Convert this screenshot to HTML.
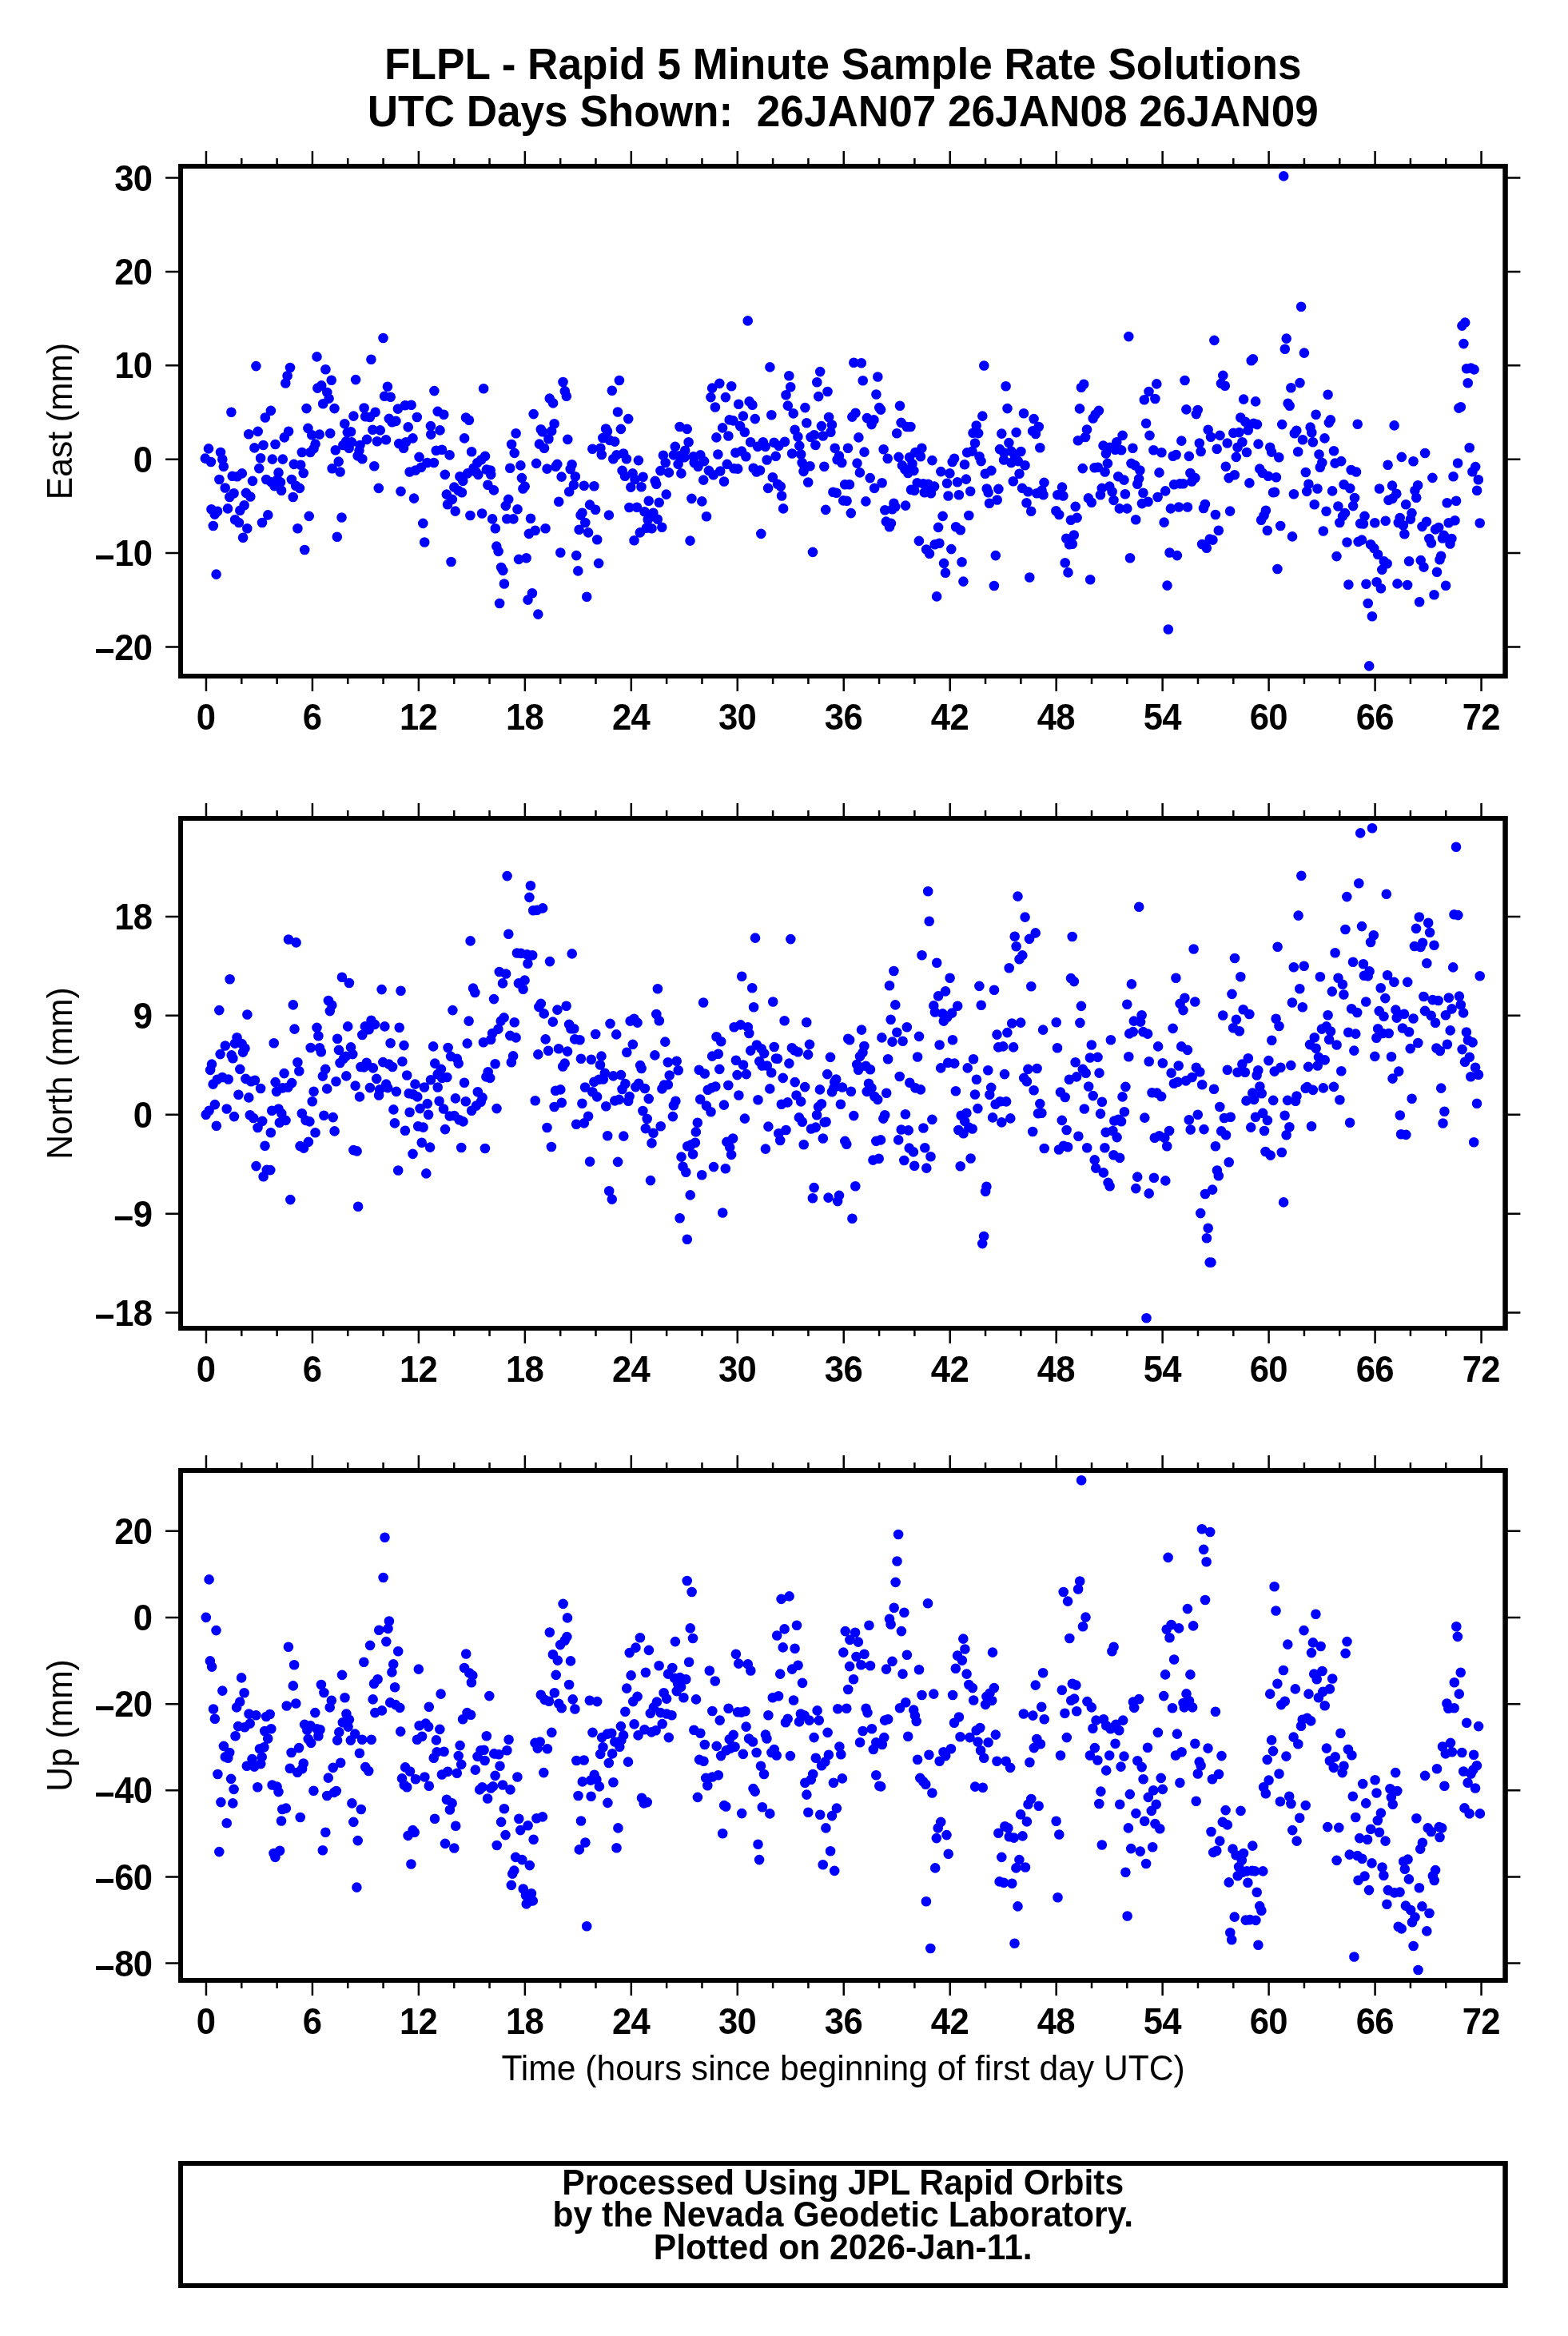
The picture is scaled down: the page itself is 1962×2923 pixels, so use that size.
<!DOCTYPE html>
<html><head><meta charset="utf-8"><title>FLPL</title>
<style>html,body{margin:0;padding:0;background:#fff}svg{display:block}text{font-family:"Liberation Sans",sans-serif;will-change:transform}</style></head><body>
<svg width="1962" height="2923" viewBox="0 0 1962 2923">
<rect width="1962" height="2923" fill="#fff"/>
<g font-size="53.15" font-weight="bold" text-anchor="middle" fill="#000">
<text transform="translate(1054.75 98.5) scale(1 1.045)">FLPL - Rapid 5 Minute Sample Rate Solutions</text>
<text transform="translate(1054.75 157.8) scale(1 1.045)">UTC Days Shown:&#160; 26JAN07 26JAN08 26JAN09</text>
</g>
<path d="M261 561.4h.01M256.8 573.6h.01M263.9 578h.01M276 566h.01M278.3 574.8h.01M279.8 583.8h.01M274.4 600h.01M281.7 610.5h.01M290.7 595.8h.01M296.8 596.2h.01M302.8 592.4h.01M292.6 617.2h.01M287.3 622h.01M264.5 637.3h.01M272.1 639.8h.01M268.7 643.6h.01M285 636.4h.01M266.8 658h.01M270.6 718.6h.01M289.4 515.8h.01M294.1 650.3h.01M298.9 654h.01M304.1 672.7h.01M309.3 661.2h.01M300.3 638.7h.01M305.6 632.2h.01M307.9 616.9h.01M313.3 621.5h.01M316 601.9h.01M311.2 543.2h.01M322.7 539.9h.01M318.4 560.4h.01M320.4 458.1h.01M329.5 557h.01M326.1 573.2h.01M324.2 586.1h.01M328 654h.01M335.3 644.4h.01M331.8 522.5h.01M338.9 513.9h.01M344.5 556h.01M340.8 574.6h.01M353.8 574.6h.01M333.2 600h.01M339.5 603.3h.01M343.3 608.1h.01M348.5 591.4h.01M347.1 600h.01M351 603.5h.01M352.1 613.8h.01M355.8 547.4h.01M361.1 539.8h.01M357.3 479.5h.01M359.6 470.3h.01M363 460h.01M367.8 580.9h.01M376.2 581.8h.01M379.7 592h.01M364.9 600h.01M370.1 607.7h.01M374.9 610.9h.01M366.7 622h.01M372.4 661.2h.01M386.7 645.9h.01M381.2 688h.01M377.8 566h.01M388.3 566h.01M392.5 561.4h.01M394.6 555.6h.01M383.5 511.1h.01M385.4 535.9h.01M390.2 544.2h.01M399.8 543.6h.01M396.5 446.4h.01M397.3 485.6h.01M402.2 482.4h.01M409.3 491h.01M411.6 498.6h.01M404.2 505.3h.01M407.4 462.3h.01M414.7 475.7h.01M418.5 511.1h.01M413.2 542.2h.01M419.8 563.3h.01M423.7 577.6h.01M415.6 586.2h.01M425.6 590.5h.01M427.5 647.5h.01M421.8 671.8h.01M431.3 530.2h.01M434.8 541.1h.01M439 540.3h.01M442.4 520.6h.01M429.4 557h.01M433.2 552.2h.01M439.9 553.2h.01M436.7 560.8h.01M450.5 557h.01M449.5 563.7h.01M447.6 570.4h.01M453.3 574.2h.01M459.1 549.9h.01M445.1 475.1h.01M455.6 510.5h.01M457.2 521.2h.01M462.9 522h.01M469.6 515.8h.01M464.4 449.8h.01M466.3 537.8h.01M475.7 538.4h.01M471.9 552.2h.01M483 550.3h.01M468.3 583.2h.01M473.8 610.9h.01M479.5 423h.01M484.9 483.7h.01M481.1 495.8h.01M488.7 496.7h.01M486.8 523.9h.01M490.6 528.3h.01M495.4 526.9h.01M497.9 511.6h.01M506.9 507.2h.01M514.6 506.8h.01M499.2 555.1h.01M505 560.8h.01M507.9 553.2h.01M516.5 548.4h.01M510.7 534.4h.01M521.8 522h.01M501.5 614.9h.01M518 623.6h.01M512.6 590.5h.01M519.9 588.5h.01M527 584.7h.01M534.6 579h.01M524.5 571.9h.01M529.3 654.9h.01M531.2 678.5h.01M538.9 533.1h.01M539.2 543.6h.01M543.4 489.1h.01M542.9 579h.01M547.7 514.9h.01M555.3 518.7h.01M550.5 538.4h.01M545.7 563.7h.01M553 562.7h.01M562.6 569.4h.01M556.8 593.9h.01M558.8 618.6h.01M565.8 624.9h.01M560.1 631.2h.01M568.3 609.6h.01M573.5 613.8h.01M577.9 616.3h.01M569.7 639.6h.01M564.5 703h.01M583 522.5h.01M586.9 525.8h.01M581.1 548.4h.01M590.1 565.2h.01M575.4 596.2h.01M579.2 601.9h.01M585 592.4h.01M592.6 585.7h.01M597.4 579h.01M602.2 575.2h.01M607 570.9h.01M595.5 590.5h.01M598.4 593.9h.01M588.4 645h.01M605.1 486.2h.01M608.9 587.6h.01M613.7 588.5h.01M614.2 593.9h.01M610.4 606.7h.01M617.9 613.4h.01M603.1 642.5h.01M616.1 649.4h.01M619.8 661.2h.01M621.3 683.6h.01M623.6 689.9h.01M627.1 710h.01M629.3 713.9h.01M625.1 755h.01M630.9 730.5h.01M636.2 624.9h.01M632.8 632.9h.01M634.3 649.2h.01M642.4 649.4h.01M647.5 637.3h.01M638.2 585.7h.01M651.4 582.4h.01M640.1 556h.01M643.7 566.9h.01M645.6 542.2h.01M652.9 598.1h.01M656.7 608.6h.01M654.4 611.5h.01M649.1 699.9h.01M658.6 698.2h.01M664 648.8h.01M661.9 667.9h.01M669.7 663.7h.01M665.9 742.2h.01M660.5 750.6h.01M667.6 518.1h.01M671.1 579.9h.01M676.8 537.3h.01M678.7 540.3h.01M674.9 555.6h.01M681 560.8h.01M686.4 549.3h.01M690.2 539.4h.01M693.6 530.2h.01M687.7 498.6h.01M692.1 504.4h.01M684.5 586.6h.01M695.4 583.8h.01M697.3 580.9h.01M682.5 661.2h.01M702.6 596.6h.01M699.2 627.8h.01M701.3 691.5h.01M704.5 478h.01M706.8 489.4h.01M708.8 495.8h.01M710.3 549.9h.01M715.6 581.3h.01M713.7 587h.01M719.8 596.2h.01M717.9 606.7h.01M712.2 615.3h.01M730.8 607.7h.01M728.5 641.7h.01M726.5 644.6h.01M732.3 654h.01M724.6 662.8h.01M736.1 666.4h.01M721.2 695.1h.01M723.3 714.4h.01M743.4 608.3h.01M738 631.6h.01M745.1 637.7h.01M747.2 675.2h.01M749.1 704.9h.01M734.2 746.8h.01M741.3 561.8h.01M751.4 560.8h.01M752.8 569h.01M758.1 536.5h.01M760 539.8h.01M754.3 548h.01M762.9 550.9h.01M769.2 552.6h.01M761.9 644.6h.01M765.8 488.7h.01M767.3 574.2h.01M774.9 476h.01M773 515.5h.01M776.9 536.9h.01M786.2 524.1h.01M771.5 569.4h.01M780.1 567.5h.01M783.9 574.2h.01M778.6 588.9h.01M782 595.8h.01M791.6 592.4h.01M794.5 600h.01M789.3 609.6h.01M798.9 576.1h.01M804.6 596.8h.01M802.5 609.2h.01M787.4 635h.01M797 634.8h.01M793.5 676.2h.01M800.8 666.4h.01M806.5 640.2h.01M817.4 641.7h.01M810.7 650.2h.01M822.8 649.8h.01M808.8 660.7h.01M815.5 661.2h.01M828.3 659.7h.01M811.7 626.8h.01M824.7 628.7h.01M819.7 601.9h.01M821.2 605.8h.01M833.7 618.6h.01M826.4 589.1h.01M829.9 569.8h.01M832.7 579h.01M836.9 591.4h.01M844.8 558.9h.01M842.9 569.4h.01M850.5 570.4h.01M848.6 580.9h.01M857.2 563.7h.01M856.3 572.3h.01M861.6 553.2h.01M852.4 592.4h.01M850.5 534h.01M859.7 536.9h.01M867.7 571.3h.01M876.4 569.4h.01M868.7 579h.01M873.5 583.8h.01M881.1 577.1h.01M865.4 623.9h.01M878.3 627.4h.01M884 646.3h.01M863.5 676.6h.01M880.2 600.6h.01M886.9 588.9h.01M892.6 594.3h.01M901.2 589.5h.01M909.8 580.9h.01M906 602.5h.01M898.4 568.5h.01M896.4 547.4h.01M904.1 535.4h.01M911.4 545.5h.01M889.4 497.1h.01M894.9 509.5h.01M891.1 485.6h.01M900.3 479.9h.01M907.9 497.1h.01M915.2 483.3h.01M912.7 525.4h.01M917.5 526.4h.01M924.2 505.7h.01M929.9 520.6h.01M926.1 533.1h.01M931.8 540.7h.01M920.4 566.5h.01M928 564.6h.01M933.4 571.3h.01M918.4 586.2h.01M923.2 586.6h.01M935.7 401.4h.01M937.6 502.4h.01M941.4 506.8h.01M944.8 524.1h.01M939.1 553.2h.01M948.1 558.9h.01M954.8 553.2h.01M957.7 558.9h.01M942.7 585.7h.01M946.6 590.5h.01M951 588.5h.01M952.3 667.9h.01M963.4 459.4h.01M965.3 519.3h.01M959.6 575.5h.01M970.7 570.9h.01M968.6 553.7h.01M974.5 557.9h.01M982 552.8h.01M966.8 597.2h.01M961.1 610.9h.01M973 605.8h.01M976.8 608.6h.01M978.1 620.5h.01M980.1 636.4h.01M987.3 470.3h.01M989.2 484.3h.01M983.5 494.2h.01M985.8 507.6h.01M992.7 517.4h.01M994.6 537.8h.01M998.4 546.5h.01M1000.3 557.9h.01M991.1 567.5h.01M1002.2 568.5h.01M1003.6 579h.01M1006.5 583.2h.01M1013.5 583.2h.01M1005.5 589.9h.01M1007.4 510.1h.01M1009.3 529.2h.01M1011.2 603.5h.01M1017 690.9h.01M1014.5 547h.01M1018.9 544.2h.01M1020.4 557h.01M1027.9 533.1h.01M1029.8 545.5h.01M1026.2 465.1h.01M1022.3 478.2h.01M1024.2 496.1h.01M1035.5 490h.01M1037.1 522h.01M1040.9 531.5h.01M1039.4 540.7h.01M1031.3 583.8h.01M1033.2 637.9h.01M1044.7 560.8h.01M1049.9 570.4h.01M1047.6 575.2h.01M1053.3 579h.01M1042.4 615.7h.01M1046.6 616.7h.01M1057.2 606.3h.01M1062.9 606.3h.01M1055.2 626.4h.01M1059.6 626.8h.01M1061 560.8h.01M1064.8 642.1h.01M1068.3 453.7h.01M1077.8 454.2h.01M1079.7 476.2h.01M1070.5 516.8h.01M1066.3 521.6h.01M1074.4 547.4h.01M1072.5 579.6h.01M1075.9 591.4h.01M1081.5 565.6h.01M1083.4 627.4h.01M1084.9 523.1h.01M1090.6 531.1h.01M1093.5 525.4h.01M1088.7 598.1h.01M1094.1 610.9h.01M1103.6 604.2h.01M1098.3 471.5h.01M1096.4 493.5h.01M1100.2 510.1h.01M1102.1 512.6h.01M1105.6 562.3h.01M1110.7 573.8h.01M1107.3 638.3h.01M1108.8 652.6h.01M1114.9 654.9h.01M1113 659.3h.01M1118.4 629.7h.01M1120.3 634.1h.01M1116.5 637.3h.01M1126 507.8h.01M1122.2 542.2h.01M1127.6 528.9h.01M1134.6 534h.01M1124.5 571.9h.01M1133.1 632.6h.01M1128.9 582.4h.01M1132.3 587.2h.01M1136.2 592h.01M1138.1 572.3h.01M1139.4 534h.01M1140 612.8h.01M1153.4 560.8h.01M1145.4 566h.01M1151.9 571.3h.01M1141.5 580.3h.01M1143.4 588.9h.01M1166.4 576.1h.01M1147.7 604.2h.01M1144.2 613.8h.01M1155.3 605.4h.01M1161.4 605.8h.01M1169.1 608.6h.01M1156.8 616.3h.01M1164.9 617.2h.01M1177.3 590.1h.01M1149.9 676.9h.01M1159.1 687.5h.01M1163 692.8h.01M1169.7 681.3h.01M1175.4 679.8h.01M1174.1 659.9h.01M1179.6 645.9h.01M1172.1 746.4h.01M1188.4 592.4h.01M1185 604.8h.01M1186.5 620.5h.01M1194.1 573.8h.01M1191.7 578h.01M1198 603.3h.01M1199.9 619.2h.01M1207 581.3h.01M1208.9 599.6h.01M1214.2 614.8h.01M1212.3 645h.01M1196.1 659.3h.01M1201.8 663.2h.01M1190.3 687.1h.01M1181.1 704.9h.01M1183 716.7h.01M1203.5 703.3h.01M1205.4 727.6h.01M1210.2 566.2h.01M1216.5 564.6h.01M1220 554.5h.01M1221.7 532.5h.01M1217.5 541.7h.01M1224.2 542.1h.01M1229.3 520.6h.01M1231.3 457.5h.01M1225.5 571.3h.01M1227.6 577.1h.01M1232.8 592.8h.01M1240.4 588.9h.01M1234.7 611.5h.01M1236.6 616.3h.01M1249.4 611.9h.01M1238 629.7h.01M1247.7 625.5h.01M1245.8 695.1h.01M1243.9 733h.01M1253.3 542.6h.01M1251 562.1h.01M1256.3 566.5h.01M1256.1 575.5h.01M1258.6 483.3h.01M1260.5 511.1h.01M1262.4 554.1h.01M1265.3 564.6h.01M1270.1 571.3h.01M1265.3 579h.01M1273.9 577.1h.01M1277.4 565h.01M1271.6 541.1h.01M1281 517.2h.01M1282.5 582.2h.01M1275.5 592.8h.01M1267.8 602.3h.01M1279.1 610.9h.01M1286.4 615.3h.01M1284.5 629.3h.01M1290.2 639.8h.01M1288.3 722.5h.01M1293.6 524.1h.01M1299.8 534h.01M1292.1 539.4h.01M1295.9 543h.01M1301.3 560.2h.01M1306.5 603.9h.01M1297.3 617.2h.01M1303.6 613.8h.01M1305.5 619.2h.01M1329 609.6h.01M1323.3 619.2h.01M1330.4 620.5h.01M1321.4 639.2h.01M1325.2 644h.01M1345.7 633.9h.01M1339.9 650.7h.01M1347.6 647.9h.01M1343.8 669.5h.01M1334.2 673.7h.01M1338 681.3h.01M1341.8 680.8h.01M1332.7 704.3h.01M1336.5 716.4h.01M1356.2 480.8h.01M1352.9 484.7h.01M1351 511.4h.01M1360 537.5h.01M1358.1 547h.01M1348.9 551.2h.01M1354.7 586.1h.01M1361.9 623.4h.01M1365.8 628.7h.01M1364.2 725.3h.01M1374.9 513.9h.01M1370.5 518.7h.01M1367.7 523.5h.01M1369.6 585.3h.01M1373.8 584.7h.01M1382.6 590.5h.01M1385.9 579.9h.01M1380.5 557.6h.01M1383.9 567.5h.01M1388.7 559.8h.01M1397.3 553.2h.01M1395.4 562.7h.01M1403.1 563.3h.01M1404.6 544.9h.01M1378.8 610.9h.01M1376.9 619.2h.01M1388.3 608.6h.01M1391.6 615.3h.01M1393.5 625.9h.01M1399.2 596.2h.01M1406.5 600.6h.01M1407.9 618.2h.01M1400.8 636.4h.01M1410.3 636.4h.01M1412.3 421.1h.01M1417.4 560.8h.01M1415.5 579.9h.01M1420.3 582.4h.01M1426.4 588.5h.01M1425.1 599.1h.01M1423.2 605.8h.01M1430.4 616.7h.01M1421.2 650.3h.01M1414 698.2h.01M1428.9 630.1h.01M1436.6 627.8h.01M1431.8 500.2h.01M1437.5 490h.01M1434.1 529.8h.01M1438.5 544.9h.01M1447.3 480.4h.01M1445.4 499h.01M1443.4 563.3h.01M1453.4 566.2h.01M1450.5 591.4h.01M1458.2 614.4h.01M1448.6 622h.01M1467.7 570.8h.01M1471.6 569h.01M1469.1 606.3h.01M1476.4 605.2h.01M1480.6 605.2h.01M1464.9 636.4h.01M1475 634.5h.01M1485.9 634.5h.01M1456.6 653.6h.01M1463.5 691.5h.01M1472.9 695.1h.01M1460.5 732.6h.01M1478.3 551.6h.01M1482.5 476h.01M1484.4 512.4h.01M1487.8 570.9h.01M1489.4 592h.01M1495.5 598.1h.01M1491.3 602.5h.01M1498.7 513h.01M1496.8 518.1h.01M1500.8 554.5h.01M1502.6 565h.01M1511.7 537.8h.01M1515 546.8h.01M1507.9 631h.01M1506 636h.01M1504.1 681h.01M1509.8 685.7h.01M1513.7 674.6h.01M1517.5 675.6h.01M1519.4 425.9h.01M1530.3 469.9h.01M1528 479.9h.01M1532.8 482.7h.01M1526.5 544.9h.01M1522.7 561.8h.01M1535.7 554.5h.01M1533.8 583.8h.01M1520.9 644h.01M1524.8 663.7h.01M1539.1 639.6h.01M1537.6 598.1h.01M1544.8 594.3h.01M1543.3 541.7h.01M1550.6 541.1h.01M1546.8 571.9h.01M1548.5 559.8h.01M1554.4 553.2h.01M1552.3 522.5h.01M1558.2 527.7h.01M1556.1 499.6h.01M1561.7 538.2h.01M1560 566h.01M1563.4 604.4h.01M1565.7 451.2h.01M1567.8 449.3h.01M1571.1 502.4h.01M1568.6 529.8h.01M1573 531.1h.01M1574.5 555.6h.01M1576.2 586.6h.01M1579.7 591.8h.01M1586.9 595.8h.01M1596.9 597.2h.01M1589.2 559.8h.01M1591.1 565.6h.01M1600.3 572.3h.01M1583.9 638.7h.01M1581.6 645h.01M1578.1 650.7h.01M1585.8 663.7h.01M1593.1 616.3h.01M1595 615.7h.01M1598.4 712h.01M1602.2 658h.01M1604.2 531.1h.01M1609.7 423.6h.01M1607.8 436.8h.01M1611.6 504.7h.01M1613.7 507.8h.01M1615.4 485.2h.01M1626.5 479.1h.01M1628.1 383.8h.01M1631.9 441.6h.01M1622.3 538.8h.01M1619.8 542.2h.01M1630 550.3h.01M1624.2 565.2h.01M1618.9 618.2h.01M1617 671.4h.01M1633.8 591h.01M1637.4 605.8h.01M1635.2 614.9h.01M1639.6 534.6h.01M1641.3 541.3h.01M1642.8 553.2h.01M1646.6 518.7h.01M1650.5 568.5h.01M1654.3 579h.01M1651.8 584.7h.01M1648.5 611.5h.01M1644.7 631.2h.01M1657.5 548.4h.01M1661.6 493.8h.01M1664.8 525.4h.01M1662.9 528.9h.01M1669 564.2h.01M1670.5 579.6h.01M1678.2 577.1h.01M1667.1 614.4h.01M1659.5 639.8h.01M1655.8 664.5h.01M1674.4 633.5h.01M1683 642.1h.01M1680.1 645.9h.01M1676.3 654h.01M1672.5 696.1h.01M1681.6 606.3h.01M1689.3 611.1h.01M1690.6 588h.01M1697 590.5h.01M1695 623h.01M1693.1 633.1h.01M1685.5 678.5h.01M1687.4 731.5h.01M1698.7 530.8h.01M1707.5 645.9h.01M1702.1 655.1h.01M1705.9 655.5h.01M1699.6 677.9h.01M1704 675.6h.01M1709.4 730.7h.01M1711.7 755h.01M1715.1 681.3h.01M1719.3 686.1h.01M1724.1 693.8h.01M1731.8 702.4h.01M1735.6 705.3h.01M1729.3 712.9h.01M1722.6 728.2h.01M1727.9 736.2h.01M1720.3 654.2h.01M1726 611.5h.01M1733.7 651.7h.01M1736.6 581.8h.01M1737.5 625.9h.01M1744.6 532.4h.01M1753.8 571.9h.01M1768.5 577.2h.01M1783.1 567h.01M1792.4 597.9h.01M1742 607.6h.01M1747.3 617.7h.01M1742.4 623.9h.01M1774.1 607.2h.01M1770.4 613.7h.01M1772.2 622.8h.01M1759.2 631.2h.01M1766.5 642.1h.01M1764.9 649.6h.01M1751.7 648h.01M1749.8 654h.01M1755.8 657.2h.01M1757.4 668.3h.01M1785 652.8h.01M1779.5 658.9h.01M1800.2 660h.01M1796.1 662.4h.01M1788.3 674h.01M1790.9 679.5h.01M1806.7 669.9h.01M1805 673.5h.01M1816.4 674h.01M1814.5 680.5h.01M1812.7 654.3h.01M1820.5 651.2h.01M1810.7 629.3h.01M1822.1 626.8h.01M1818.5 596.3h.01M1824.1 579.5h.01M1838.7 560.2h.01M1846.2 584.1h.01M1842.4 590.2h.01M1849.8 600.3h.01M1848.1 613.8h.01M1851.7 654.5h.01M1833.2 403.6h.01M1829.4 407.6h.01M1831.4 430.1h.01M1835.1 461.3h.01M1840.5 460.5h.01M1844.6 462.4h.01M1836.7 479.2h.01M1827.8 509.3h.01M1825.4 510.6h.01M1803.1 695.8h.01M1801.5 700.3h.01M1763.1 702.3h.01M1777.7 701.1h.01M1781.5 709.6h.01M1798 715.8h.01M1748.5 730.4h.01M1761.1 732h.01M1809.1 732.8h.01M1794.5 744.2h.01M1776.1 753.2h.01M673.3 768.6h.01M1716.9 771.3h.01M1713.2 833.4h.01M1461.8 787.5h.01M1606.2 220.4h.01" stroke="#0000ff" stroke-width="12.6" stroke-linecap="round" fill="none"/>
<path d="M257.95 208v-18.9M257.95 846v18.9M302.27 208v-10M302.27 846v10M346.59 208v-10M346.59 846v10M390.92 208v-18.9M390.92 846v18.9M435.24 208v-10M435.24 846v10M479.56 208v-10M479.56 846v10M523.88 208v-18.9M523.88 846v18.9M568.2 208v-10M568.2 846v10M612.53 208v-10M612.53 846v10M656.85 208v-18.9M656.85 846v18.9M701.17 208v-10M701.17 846v10M745.49 208v-10M745.49 846v10M789.81 208v-18.9M789.81 846v18.9M834.14 208v-10M834.14 846v10M878.46 208v-10M878.46 846v10M922.78 208v-18.9M922.78 846v18.9M967.1 208v-10M967.1 846v10M1011.42 208v-10M1011.42 846v10M1055.75 208v-18.9M1055.75 846v18.9M1100.07 208v-10M1100.07 846v10M1144.39 208v-10M1144.39 846v10M1188.71 208v-18.9M1188.71 846v18.9M1233.03 208v-10M1233.03 846v10M1277.36 208v-10M1277.36 846v10M1321.68 208v-18.9M1321.68 846v18.9M1366 208v-10M1366 846v10M1410.32 208v-10M1410.32 846v10M1454.64 208v-18.9M1454.64 846v18.9M1498.97 208v-10M1498.97 846v10M1543.29 208v-10M1543.29 846v10M1587.61 208v-18.9M1587.61 846v18.9M1631.93 208v-10M1631.93 846v10M1676.25 208v-10M1676.25 846v10M1720.58 208v-18.9M1720.58 846v18.9M1764.9 208v-10M1764.9 846v10M1809.22 208v-10M1809.22 846v10M1853.54 208v-18.9M1853.54 846v18.9M226 222.5h-18.9M1883.5 222.5h18.9M226 339.9h-18.9M1883.5 339.9h18.9M226 457.3h-18.9M1883.5 457.3h18.9M226 574.7h-18.9M1883.5 574.7h18.9M226 692.1h-18.9M1883.5 692.1h18.9M226 809.5h-18.9M1883.5 809.5h18.9" stroke="#000" stroke-width="2.5" fill="none"/>
<path fill="#000" fill-rule="evenodd" d="M223.05 205H1886.8V848.9H223.05ZM229 210.9H1880.3V843.1H229Z"/>
<g font-size="43.6" letter-spacing="-0.67" font-weight="bold" fill="#000">
<g text-anchor="middle">
<text transform="translate(257.62 912.8) scale(1 1.052)">0</text>
<text transform="translate(390.59 912.8) scale(1 1.052)">6</text>
<text transform="translate(523.55 912.8) scale(1 1.052)">12</text>
<text transform="translate(656.52 912.8) scale(1 1.052)">18</text>
<text transform="translate(789.48 912.8) scale(1 1.052)">24</text>
<text transform="translate(922.45 912.8) scale(1 1.052)">30</text>
<text transform="translate(1055.42 912.8) scale(1 1.052)">36</text>
<text transform="translate(1188.38 912.8) scale(1 1.052)">42</text>
<text transform="translate(1321.35 912.8) scale(1 1.052)">48</text>
<text transform="translate(1454.31 912.8) scale(1 1.052)">54</text>
<text transform="translate(1587.28 912.8) scale(1 1.052)">60</text>
<text transform="translate(1720.25 912.8) scale(1 1.052)">66</text>
<text transform="translate(1853.21 912.8) scale(1 1.052)">72</text>
</g><g text-anchor="end">
<text transform="translate(190.3 238.6) scale(1 1.052)">30</text>
<text transform="translate(190.3 356) scale(1 1.052)">20</text>
<text transform="translate(190.3 473.4) scale(1 1.052)">10</text>
<text transform="translate(190.3 590.8) scale(1 1.052)">0</text>
<text transform="translate(190.3 708.2) scale(1 1.052)"><tspan dy="4.6">−</tspan><tspan dy="-4.6">10</tspan></text>
<text transform="translate(190.3 825.6) scale(1 1.052)"><tspan dy="4.6">−</tspan><tspan dy="-4.6">20</tspan></text>
</g></g>
<text transform="translate(89.9 527) rotate(-90) scale(1 1.025)" font-size="42.6" text-anchor="middle">East (mm)</text>
<path d="M257.7 1394.8h.01M261.6 1389.8h.01M268.9 1382.1h.01M270.8 1408.7h.01M265 1331.6h.01M263.1 1338.9h.01M266.6 1356.6h.01M271.8 1350.8h.01M278.2 1348h.01M285.7 1350.5h.01M275.6 1319.1h.01M281.8 1308.5h.01M274.3 1264.1h.01M283.7 1387.5h.01M287.6 1225.2h.01M289.7 1320.4h.01M291.4 1324.3h.01M296.5 1298.2h.01M293.9 1305.6h.01M302.6 1306.1h.01M306.5 1311.7h.01M304 1316.6h.01M300.3 1337.9h.01M298.4 1369.7h.01M293 1397.1h.01M307.4 1349.9h.01M314.2 1353.2h.01M319 1351.8h.01M311.3 1373.4h.01M309.4 1269.5h.01M312.8 1395.2h.01M317.1 1399h.01M322.5 1411h.01M328.2 1402.9h.01M320.5 1459.1h.01M326.1 1362h.01M331.5 1433.7h.01M333.8 1463.9h.01M338.3 1464.1h.01M329.6 1472.2h.01M338.8 1417.3h.01M340.2 1389.8h.01M348.5 1387.5h.01M352.3 1393.2h.01M349.8 1404.8h.01M357.5 1401.9h.01M344.6 1354.1h.01M346 1365.9h.01M353.7 1361.4h.01M360.4 1360.5h.01M365.2 1355.1h.01M355.6 1343.1h.01M342.7 1305.2h.01M361 1175.5h.01M370.6 1179.4h.01M366.8 1257.4h.01M368.5 1287.6h.01M372.4 1329.3h.01M374.3 1340.3h.01M377.8 1393.2h.01M382.6 1401.9h.01M387.4 1403.4h.01M375.5 1434.1h.01M380.1 1436.6h.01M385.9 1428.9h.01M363.3 1501.1h.01M388.7 1311h.01M392.6 1365.7h.01M390.7 1378.2h.01M394.5 1417.3h.01M396.5 1285.9h.01M398.4 1296.3h.01M399.9 1311.3h.01M401.8 1316.2h.01M407.2 1337.9h.01M403.8 1346.6h.01M409.2 1362.4h.01M405.3 1395.7h.01M416.7 1398.1h.01M418.6 1415.4h.01M410.9 1252h.01M415.3 1257.8h.01M412.8 1265.1h.01M422.1 1299.8h.01M424 1313.9h.01M420.5 1353.2h.01M425.5 1330h.01M429.8 1324.8h.01M432.7 1321.9h.01M427.9 1222.7h.01M436.9 1230h.01M435.2 1284.4h.01M439 1310.4h.01M441.3 1319.1h.01M433.3 1346.4h.01M444.6 1358.6h.01M450 1372.4h.01M442.3 1439.1h.01M446.6 1440.4h.01M448.1 1509.8h.01M453.3 1295h.01M456.8 1284.4h.01M461.6 1288.2h.01M464.5 1276.7h.01M468.9 1281.9h.01M451.4 1335h.01M458.7 1329.7h.01M455.4 1335.4h.01M466.8 1336.4h.01M462.9 1361.1h.01M471.2 1349.9h.01M477.6 1238.1h.01M481.4 1284.4h.01M488.6 1305.2h.01M479.3 1329.1h.01M486.6 1331.6h.01M491.1 1335h.01M483.2 1356.6h.01M485.1 1361.1h.01M475.1 1363.4h.01M474.1 1370.5h.01M495.9 1365.9h.01M492.4 1388.4h.01M493.9 1405.4h.01M498.2 1464.5h.01M501.5 1239.7h.01M499.7 1285.7h.01M505.5 1308.1h.01M503.4 1328.3h.01M509.2 1345.5h.01M506.9 1414.8h.01M519.4 1356.6h.01M530.9 1360.5h.01M511.7 1368.2h.01M516.9 1369.2h.01M522.3 1372.4h.01M512.6 1391.7h.01M525.5 1387.1h.01M534.8 1381.1h.01M536.1 1394.8h.01M523.2 1409.2h.01M529.6 1410.6h.01M527.7 1429.8h.01M516.5 1443.9h.01M538.1 1435.6h.01M533.3 1468.4h.01M542.1 1309.4h.01M539 1351.2h.01M544.2 1330.6h.01M551.9 1337.9h.01M547.7 1344.1h.01M553.1 1348.9h.01M559.3 1348h.01M547.7 1360.5h.01M560.6 1311h.01M564.1 1321.9h.01M571.8 1324.8h.01M573.7 1330.6h.01M566.4 1264.1h.01M549.6 1377.8h.01M555 1387.5h.01M562.7 1396.5h.01M568.5 1396.1h.01M574.7 1401.3h.01M579.5 1403.4h.01M569.9 1374.4h.01M557 1413.1h.01M577.2 1436h.01M581 1354.7h.01M582.8 1378.2h.01M584.7 1305.6h.01M586.6 1277.6h.01M588.6 1177.4h.01M592 1236.6h.01M594.3 1242h.01M597.8 1366.3h.01M603.6 1373.4h.01M601.7 1378.8h.01M595.9 1383.6h.01M590.1 1389.8h.01M606.9 1437h.01M604.9 1304.2h.01M614.2 1300.8h.01M616.1 1293h.01M623.4 1287.6h.01M610.7 1341.2h.01M608.4 1347.4h.01M613.2 1348.9h.01M618 1250.1h.01M619.6 1331.2h.01M621.5 1387.1h.01M626.7 1277.6h.01M630.6 1273.4h.01M624.8 1216h.01M633.1 1218.5h.01M629 1230.4h.01M636.3 1168.8h.01M638.3 1295.9h.01M645.6 1298.4h.01M643.7 1279.2h.01M642.1 1321.4h.01M639.8 1329.3h.01M646.9 1192.5h.01M651.8 1192.9h.01M659.5 1194.2h.01M666.2 1195.2h.01M660.4 1205.8h.01M648.9 1230.4h.01M656.6 1226.6h.01M654.6 1237.7h.01M662.4 1122.9h.01M667.2 1139.3h.01M672 1138.9h.01M679.1 1136.4h.01M676.8 1255.9h.01M674.3 1259.9h.01M680.7 1268.4h.01M673.3 1319.4h.01M682.6 1300.4h.01M686.1 1314.8h.01M669.7 1377.2h.01M684.5 1411h.01M688 1203.1h.01M691.8 1278.6h.01M689.9 1435h.01M693.6 1385h.01M697.4 1263.6h.01M708.6 1258.7h.01M699 1312.3h.01M710.1 1315.6h.01M712.1 1281.9h.01M714.4 1287.3h.01M718.2 1287.3h.01M706.7 1330.6h.01M704.2 1334.5h.01M695.1 1364.7h.01M701.3 1363.4h.01M702.8 1379.7h.01M715.7 1193.4h.01M719.2 1300.4h.01M725.5 1301.3h.01M726.9 1324.8h.01M728.4 1380.7h.01M721.1 1406.7h.01M730.8 1405.4h.01M736.1 1396.7h.01M732.1 1360.5h.01M739.8 1325.8h.01M738.1 1453.5h.01M745.2 1294h.01M743.3 1353.7h.01M749.4 1350.8h.01M754.8 1350.5h.01M741.3 1366.3h.01M747.1 1372.4h.01M752.5 1321.6h.01M751 1332.5h.01M756.8 1342.8h.01M758.3 1384.2h.01M760.2 1421.2h.01M762.2 1490.2h.01M765.8 1500.6h.01M763.5 1280.9h.01M767.4 1346.4h.01M771.2 1294.4h.01M769.3 1377.4h.01M774.7 1375.9h.01M777 1345.1h.01M782.4 1356.1h.01M778.5 1363h.01M784.3 1316.7h.01M787.6 1372h.01M786.2 1377.8h.01M780.3 1421.6h.01M773.1 1453.9h.01M791.8 1306.9h.01M788.6 1277.6h.01M793.4 1274.7h.01M797.6 1279.6h.01M795.3 1360.1h.01M799.2 1355.7h.01M801.1 1333.1h.01M802.6 1337h.01M806.9 1362h.01M804.4 1390h.01M809.7 1400h.01M807.8 1412.1h.01M811.7 1374.9h.01M817.5 1417.7h.01M815.5 1430.4h.01M814 1477.1h.01M819.4 1320.4h.01M821.3 1269h.01M824.8 1277.2h.01M822.9 1237.2h.01M826.7 1409.2h.01M832.3 1303.6h.01M828.4 1362.4h.01M830.9 1357.6h.01M835.8 1357.2h.01M835.8 1329.3h.01M837.7 1345.5h.01M846.7 1327.7h.01M848.7 1339.3h.01M845.4 1377.8h.01M842.9 1383.2h.01M841.9 1397.1h.01M852.5 1447.6h.01M854.5 1459.7h.01M858.3 1466.8h.01M850.6 1524.3h.01M859.8 1550.8h.01M863.7 1495.4h.01M860.2 1434.3h.01M865 1432.2h.01M869.9 1429.8h.01M867 1444.3h.01M872.8 1404.8h.01M870.8 1416.4h.01M874.7 1338.7h.01M881.8 1343.5h.01M876.2 1375.5h.01M878.2 1470.3h.01M880.1 1254.5h.01M883.9 1383.6h.01M889.5 1391.3h.01M885.7 1363.8h.01M890.1 1361.4h.01M895.3 1359.5h.01M891.1 1321.6h.01M898.8 1318.7h.01M896.5 1297.3h.01M902.2 1303.3h.01M900.3 1337.9h.01M893 1460.1h.01M905.9 1382.6h.01M904.2 1517.5h.01M907.8 1462.2h.01M911.3 1358h.01M909.4 1428.9h.01M913.2 1435.6h.01M917.1 1424.5h.01M915.1 1444.9h.01M918.6 1285.3h.01M926.7 1282.4h.01M935.8 1285.3h.01M937.3 1293h.01M920.9 1326.8h.01M930 1332.5h.01M922.5 1345.1h.01M933.8 1344.1h.01M924.4 1370.5h.01M928.2 1221.8h.01M931.9 1399.6h.01M941.2 1236.2h.01M943.1 1260.3h.01M945 1173.6h.01M939.2 1314.6h.01M946.9 1307.5h.01M952.7 1312.3h.01M956.2 1318.1h.01M950.2 1328.1h.01M953.7 1333.5h.01M959.8 1333.5h.01M948.5 1376.3h.01M957.9 1437.6h.01M965.2 1342.2h.01M963.3 1362.4h.01M961.4 1409.6h.01M967.2 1253.5h.01M968.7 1310h.01M971 1324.5h.01M972.9 1324.8h.01M979.7 1348.9h.01M977.8 1381.7h.01M985.5 1379.4h.01M974.3 1418.3h.01M976.2 1427h.01M983.5 1414h.01M981.6 1277.2h.01M987.4 1330.6h.01M989.3 1175.1h.01M990.9 1311.3h.01M994.1 1314.2h.01M998.6 1316.2h.01M994.7 1354.1h.01M996.5 1370.5h.01M1002.2 1378.4h.01M999.9 1398.4h.01M1003.8 1403.8h.01M1005.7 1432.2h.01M1007.2 1360.1h.01M1009.2 1279.2h.01M1013 1306.9h.01M1011.1 1319.6h.01M1015 1412.5h.01M1020.7 1410.6h.01M1018.6 1486.1h.01M1016.9 1499.2h.01M1022.1 1395.2h.01M1024 1385.1h.01M1027.9 1381.3h.01M1025.9 1363.4h.01M1029.8 1424.5h.01M1031.7 1404.2h.01M1033.6 1403.8h.01M1035.2 1344.1h.01M1039 1322.9h.01M1041 1366.3h.01M1043.3 1361.4h.01M1044.2 1353.7h.01M1046.2 1350.5h.01M1036.5 1498.6h.01M1050 1495.9h.01M1048.1 1503.1h.01M1051.9 1381.7h.01M1053.9 1360.5h.01M1057.3 1427.9h.01M1059.3 1431.8h.01M1061.2 1299.8h.01M1063.1 1301.3h.01M1064.9 1365.7h.01M1068.3 1396.1h.01M1070.3 1484.2h.01M1066.4 1524.8h.01M1078 1288.6h.01M1081.4 1309h.01M1079.5 1317.1h.01M1076 1321.9h.01M1072.2 1332h.01M1074.1 1338.7h.01M1083.4 1333.9h.01M1088.9 1338.3h.01M1087 1355.7h.01M1090.5 1361.4h.01M1084.7 1365.9h.01M1094.3 1372h.01M1098.2 1375.9h.01M1096.3 1427.9h.01M1102 1426.4h.01M1092.4 1451.6h.01M1099.7 1449.7h.01M1103.4 1298.4h.01M1109.2 1367.8h.01M1107.2 1395.2h.01M1105.3 1399.6h.01M1111.1 1325.2h.01M1114.6 1275.7h.01M1116.5 1303.6h.01M1113 1233.3h.01M1118.4 1215h.01M1120.3 1257.4h.01M1122.3 1291.7h.01M1129.6 1302.7h.01M1125.7 1347h.01M1124.2 1426.4h.01M1127.7 1413.5h.01M1132.9 1394.2h.01M1134.8 1285.3h.01M1131.3 1452h.01M1136.7 1414.4h.01M1138.3 1354.7h.01M1137.7 1436.6h.01M1161.2 1115.2h.01M1162.7 1152.8h.01M1153.5 1195.2h.01M1172.2 1204.8h.01M1150 1296.9h.01M1148.1 1322.5h.01M1145.4 1361.4h.01M1151.9 1363.4h.01M1142.9 1441.4h.01M1144.2 1458.7h.01M1155.4 1411.5h.01M1166.4 1400.9h.01M1157.3 1436.2h.01M1164.5 1447.2h.01M1159.3 1461.6h.01M1168.3 1258.4h.01M1169.9 1266.5h.01M1174.1 1246.4h.01M1175.6 1307.5h.01M1177.2 1336.4h.01M1183 1240.4h.01M1179.5 1268.4h.01M1180.8 1277.6h.01M1185.3 1272.8h.01M1191.1 1267.6h.01M1188.6 1223.7h.01M1198.2 1258.7h.01M1192 1301.3h.01M1186.2 1329.7h.01M1194.3 1330.6h.01M1195.9 1365.3h.01M1199.3 1414h.01M1205.5 1418.3h.01M1202.6 1395.7h.01M1209.4 1392.7h.01M1207.1 1402.9h.01M1212.3 1410.6h.01M1216.7 1412.5h.01M1201.7 1459.3h.01M1214.6 1449.5h.01M1210.7 1336.4h.01M1218 1325.2h.01M1221.9 1350.8h.01M1220 1369.5h.01M1223.4 1387.1h.01M1225.4 1233.9h.01M1227.7 1257.8h.01M1236.3 1339.3h.01M1240.2 1360.9h.01M1238.3 1369.7h.01M1242.1 1398.4h.01M1245.6 1381.7h.01M1251.4 1378.2h.01M1259.1 1378.4h.01M1253.3 1404.4h.01M1244 1238.7h.01M1247.5 1294.6h.01M1249.2 1310.4h.01M1255.2 1309.4h.01M1234.4 1484.8h.01M1233.1 1490.9h.01M1231.1 1547h.01M1229.2 1556.1h.01M1257 1344.1h.01M1264.3 1399.4h.01M1260.4 1292.1h.01M1266.2 1280.5h.01M1268.1 1310.4h.01M1262.7 1211.2h.01M1277.2 1279.6h.01M1275.5 1200.2h.01M1279.3 1195.4h.01M1271.6 1184.2h.01M1269.7 1171.7h.01M1273.5 1121.6h.01M1282.6 1147.6h.01M1288 1174.9h.01M1295.7 1167.4h.01M1290.3 1234.3h.01M1286.4 1337.9h.01M1281.2 1348.9h.01M1284.9 1353.2h.01M1293.6 1364.3h.01M1292.2 1416h.01M1297.6 1337h.01M1301.3 1381.1h.01M1299 1393.2h.01M1303.4 1392.7h.01M1305.1 1288.6h.01M1306.7 1437h.01M1321.7 1279.2h.01M1323 1311.3h.01M1326.9 1366.6h.01M1332.7 1373h.01M1328.8 1401.9h.01M1334.6 1414h.01M1325 1438.5h.01M1330.8 1433.7h.01M1336.1 1435.2h.01M1341.7 1172h.01M1340 1224.1h.01M1343.9 1228.1h.01M1352.9 1258.9h.01M1351.4 1279.9h.01M1345.6 1329.3h.01M1337.9 1350.8h.01M1347.1 1347.4h.01M1354.8 1337.9h.01M1358.7 1342.8h.01M1349.4 1421.8h.01M1356.8 1387.5h.01M1360.2 1436.2h.01M1362.2 1359.5h.01M1367.7 1371.1h.01M1365.8 1307.5h.01M1363.9 1323.5h.01M1373.5 1322.9h.01M1369.7 1451.4h.01M1375.5 1342.6h.01M1378.9 1378.8h.01M1377 1393.6h.01M1371.2 1461.6h.01M1380.8 1467.4h.01M1382.4 1436.2h.01M1383.7 1416.9h.01M1392.4 1415h.01M1397.6 1423.1h.01M1389.9 1301.3h.01M1386.6 1479.9h.01M1388.6 1484.2h.01M1393.4 1445.3h.01M1401.1 1448.7h.01M1394.3 1402.5h.01M1399.2 1400.9h.01M1403 1403.3h.01M1406.9 1391.3h.01M1404.5 1372.4h.01M1408.4 1359.9h.01M1410.3 1256.8h.01M1415.9 1231.4h.01M1425.2 1134.7h.01M1412.3 1322.3h.01M1413.2 1293.4h.01M1417.8 1291.1h.01M1418.8 1277.6h.01M1427.1 1278.6h.01M1428.6 1270.3h.01M1430.4 1291.1h.01M1436.1 1293.6h.01M1432.3 1398.6h.01M1423.2 1472.6h.01M1421.3 1487.1h.01M1437.7 1328.3h.01M1437.7 1493.4h.01M1441.5 1367.2h.01M1447.7 1367.6h.01M1453.1 1372h.01M1444.8 1423.7h.01M1450.6 1421.2h.01M1457.3 1423.7h.01M1463.1 1415h.01M1443.9 1473.8h.01M1458.3 1477.4h.01M1460.2 1434.3h.01M1449.1 1309.4h.01M1454.8 1330.2h.01M1465.6 1342.6h.01M1467.6 1286.9h.01M1468.9 1355.7h.01M1473.7 1353.7h.01M1474.7 1333.5h.01M1471.4 1223.7h.01M1476.6 1255.9h.01M1482.4 1248.7h.01M1480.5 1264.1h.01M1478.2 1309.4h.01M1485.9 1313.9h.01M1483.9 1352.4h.01M1491.6 1348h.01M1496.8 1335.8h.01M1501.3 1341.2h.01M1495.3 1253.5h.01M1493.6 1187.5h.01M1487.8 1401.3h.01M1489.7 1413.5h.01M1498.8 1394.8h.01M1504.2 1357.2h.01M1506.5 1413.1h.01M1502.2 1518.1h.01M1508 1494h.01M1511.7 1536.8h.01M1509.9 1549.3h.01M1517.1 1488.6h.01M1519 1362.8h.01M1526.3 1385h.01M1520.9 1434.3h.01M1522.9 1464.5h.01M1524.8 1471.3h.01M1528.2 1415.4h.01M1534 1420.2h.01M1531.9 1399h.01M1539.8 1397.7h.01M1537.7 1454.3h.01M1530.2 1270.5h.01M1535.8 1338.7h.01M1541.5 1243.9h.01M1545 1199h.01M1546.9 1275.7h.01M1543.1 1286.3h.01M1550.8 1290.2h.01M1552.3 1222.3h.01M1555.6 1263.2h.01M1563.3 1269h.01M1548.5 1341.8h.01M1554.3 1331.6h.01M1557.9 1341.8h.01M1561.8 1324.3h.01M1559.5 1377.4h.01M1567.2 1367.6h.01M1569.1 1375.9h.01M1565.2 1410.6h.01M1574.3 1339.3h.01M1572.6 1345.5h.01M1576.4 1359.5h.01M1578.7 1368.2h.01M1571 1397.7h.01M1580.1 1392.9h.01M1585.9 1401.9h.01M1582 1415h.01M1583.5 1441h.01M1589.7 1445.6h.01M1587.4 1327.1h.01M1591.3 1301.7h.01M1593.2 1376.9h.01M1594.7 1340.6h.01M1602.4 1335.8h.01M1596.6 1274.7h.01M1600.5 1284h.01M1598.6 1184.8h.01M1603.8 1442h.01M1606.1 1504.4h.01M1607.6 1395.7h.01M1613.4 1410.2h.01M1609.6 1420.2h.01M1611.1 1376.9h.01M1621.1 1377.8h.01M1622.5 1371.5h.01M1615.3 1333.1h.01M1616.9 1254.5h.01M1618.8 1210.2h.01M1624.6 1145.6h.01M1626.3 1237.2h.01M1629.8 1260.3h.01M1631.7 1208.7h.01M1633.6 1361.8h.01M1635.6 1360.1h.01M1637.1 1334.9h.01M1639 1307.1h.01M1644.8 1298.2h.01M1646.7 1311.7h.01M1641 1409.2h.01M1642.9 1363.9h.01M1650 1322.9h.01M1648.7 1333.5h.01M1657.7 1326.4h.01M1651.9 1222.3h.01M1653.9 1287.6h.01M1659.7 1284.4h.01M1665 1290.5h.01M1663.1 1300.8h.01M1655.8 1361.4h.01M1661.6 1270.3h.01M1666.8 1240.6h.01M1668.9 1359.9h.01M1670.6 1192.3h.01M1672.6 1307.5h.01M1674.5 1223.7h.01M1679.9 1231.8h.01M1681.4 1244.5h.01M1678.3 1340.3h.01M1676.4 1376.3h.01M1683.4 1163h.01M1685.3 1122.1h.01M1687.2 1291.7h.01M1696.3 1293.6h.01M1689.1 1404.8h.01M1691.1 1262.2h.01M1698.2 1267h.01M1693 1203.8h.01M1694.3 1314.6h.01M1704 1159.1h.01M1705.9 1206.3h.01M1706.9 1220.8h.01M1711.7 1221.4h.01M1713.6 1215.4h.01M1709.2 1253.5h.01M1715.1 1179h.01M1718.8 1170.3h.01M1720.3 1321.9h.01M1722.3 1298.8h.01M1724.2 1287.3h.01M1730 1293h.01M1737.7 1293h.01M1725.7 1265.1h.01M1731.5 1271.8h.01M1727.7 1236.2h.01M1733.3 1249.1h.01M1734.8 1118.7h.01M1736.1 1220.2h.01M1744.4 1228.9h.01M1741 1322.3h.01M1742.5 1349.6h.01M1750.2 1340.6h.01M1746.4 1263.6h.01M1747.7 1273.6h.01M1757 1268.8h.01M1761.2 1228.9h.01M1755 1286.5h.01M1763.1 1291.3h.01M1768.5 1274.5h.01M1764.7 1312.1h.01M1774.3 1305h.01M1766.6 1374.7h.01M1751.8 1395.5h.01M1753.1 1419.3h.01M1759.3 1419.9h.01M1775.8 1147.5h.01M1772 1161.9h.01M1787.2 1154.8h.01M1789.1 1166.7h.01M1769.9 1184h.01M1777.6 1185h.01M1780.1 1179.8h.01M1794.5 1182.7h.01M1785.3 1205.2h.01M1781.4 1247h.01M1792.6 1251.1h.01M1799.7 1252h.01M1783 1264.9h.01M1790.7 1270.7h.01M1796 1279.7h.01M1797.4 1311.5h.01M1801.8 1315h.01M1803.2 1361.6h.01M1807.4 1390.7h.01M1805.5 1405.5h.01M1812.8 1248.5h.01M1808.9 1270.3h.01M1816.6 1262.4h.01M1814.7 1289.4h.01M1810.9 1306.7h.01M1818.2 1210.4h.01M1822 1059.8h.01M1819.5 1144.2h.01M1824.4 1145.1h.01M1825.9 1246.6h.01M1827.8 1257.2h.01M1831.1 1267.4h.01M1834.9 1291.5h.01M1836.9 1301.5h.01M1842.6 1304.4h.01M1829.6 1313.1h.01M1838.8 1322.7h.01M1833 1328.8h.01M1846.1 1335.8h.01M1850 1344.8h.01M1840.3 1347.3h.01M1848 1380.8h.01M1844.2 1429.2h.01M1851.7 1221.2h.01M634.6 1096.1h.01M663.9 1108.2h.01M1717 1036.3h.01M1702.2 1042.4h.01M1628.3 1095.8h.01M1700.3 1105.2h.01M1434.5 1649.3h.01M1513.6 1579.6h.01M1515.5 1579.6h.01" stroke="#0000ff" stroke-width="12.6" stroke-linecap="round" fill="none"/>
<path d="M257.95 1024v-18.9M257.95 1662v18.9M302.27 1024v-10M302.27 1662v10M346.59 1024v-10M346.59 1662v10M390.92 1024v-18.9M390.92 1662v18.9M435.24 1024v-10M435.24 1662v10M479.56 1024v-10M479.56 1662v10M523.88 1024v-18.9M523.88 1662v18.9M568.2 1024v-10M568.2 1662v10M612.53 1024v-10M612.53 1662v10M656.85 1024v-18.9M656.85 1662v18.9M701.17 1024v-10M701.17 1662v10M745.49 1024v-10M745.49 1662v10M789.81 1024v-18.9M789.81 1662v18.9M834.14 1024v-10M834.14 1662v10M878.46 1024v-10M878.46 1662v10M922.78 1024v-18.9M922.78 1662v18.9M967.1 1024v-10M967.1 1662v10M1011.42 1024v-10M1011.42 1662v10M1055.75 1024v-18.9M1055.75 1662v18.9M1100.07 1024v-10M1100.07 1662v10M1144.39 1024v-10M1144.39 1662v10M1188.71 1024v-18.9M1188.71 1662v18.9M1233.03 1024v-10M1233.03 1662v10M1277.36 1024v-10M1277.36 1662v10M1321.68 1024v-18.9M1321.68 1662v18.9M1366 1024v-10M1366 1662v10M1410.32 1024v-10M1410.32 1662v10M1454.64 1024v-18.9M1454.64 1662v18.9M1498.97 1024v-10M1498.97 1662v10M1543.29 1024v-10M1543.29 1662v10M1587.61 1024v-18.9M1587.61 1662v18.9M1631.93 1024v-10M1631.93 1662v10M1676.25 1024v-10M1676.25 1662v10M1720.58 1024v-18.9M1720.58 1662v18.9M1764.9 1024v-10M1764.9 1662v10M1809.22 1024v-10M1809.22 1662v10M1853.54 1024v-18.9M1853.54 1662v18.9M226 1146.98h-18.9M1883.5 1146.98h18.9M226 1270.87h-18.9M1883.5 1270.87h18.9M226 1394.75h-18.9M1883.5 1394.75h18.9M226 1518.63h-18.9M1883.5 1518.63h18.9M226 1642.52h-18.9M1883.5 1642.52h18.9" stroke="#000" stroke-width="2.5" fill="none"/>
<path fill="#000" fill-rule="evenodd" d="M223.05 1021H1886.8V1664.9H223.05ZM229 1026.9H1880.3V1659.1H229Z"/>
<g font-size="43.6" letter-spacing="-0.67" font-weight="bold" fill="#000">
<g text-anchor="middle">
<text transform="translate(257.62 1728.8) scale(1 1.052)">0</text>
<text transform="translate(390.59 1728.8) scale(1 1.052)">6</text>
<text transform="translate(523.55 1728.8) scale(1 1.052)">12</text>
<text transform="translate(656.52 1728.8) scale(1 1.052)">18</text>
<text transform="translate(789.48 1728.8) scale(1 1.052)">24</text>
<text transform="translate(922.45 1728.8) scale(1 1.052)">30</text>
<text transform="translate(1055.42 1728.8) scale(1 1.052)">36</text>
<text transform="translate(1188.38 1728.8) scale(1 1.052)">42</text>
<text transform="translate(1321.35 1728.8) scale(1 1.052)">48</text>
<text transform="translate(1454.31 1728.8) scale(1 1.052)">54</text>
<text transform="translate(1587.28 1728.8) scale(1 1.052)">60</text>
<text transform="translate(1720.25 1728.8) scale(1 1.052)">66</text>
<text transform="translate(1853.21 1728.8) scale(1 1.052)">72</text>
</g><g text-anchor="end">
<text transform="translate(190.3 1163.08) scale(1 1.052)">18</text>
<text transform="translate(190.3 1286.96) scale(1 1.052)">9</text>
<text transform="translate(190.3 1410.85) scale(1 1.052)">0</text>
<text transform="translate(190.3 1534.73) scale(1 1.052)"><tspan dy="4.6">−</tspan><tspan dy="-4.6">9</tspan></text>
<text transform="translate(190.3 1658.62) scale(1 1.052)"><tspan dy="4.6">−</tspan><tspan dy="-4.6">18</tspan></text>
</g></g>
<text transform="translate(89.9 1343) rotate(-90) scale(1 1.025)" font-size="42.6" text-anchor="middle">North (mm)</text>
<path d="M261.6 1976.4h.01M257.8 2023.9h.01M270.5 2040.1h.01M262.9 2078.4h.01M265.1 2085.6h.01M278.3 2115.6h.01M267 2138.5h.01M268.9 2150.7h.01M279.9 2184.9h.01M287.2 2193h.01M281.8 2198.4h.01M285.3 2199.8h.01M272.4 2220h.01M276.4 2255.1h.01M274.3 2317.1h.01M289.1 2225.9h.01M292.6 2238.9h.01M291.3 2256.4h.01M283.7 2281.2h.01M302.1 2099.4h.01M305.6 2118.3h.01M300.2 2129.6h.01M296.1 2136.4h.01M294.5 2172.2h.01M298 2160.1h.01M306.1 2161.2h.01M312.8 2156.6h.01M311.5 2144.5h.01M320.4 2146.3h.01M308.8 2209.7h.01M315.5 2201.1h.01M318.2 2210.6h.01M322.3 2236.2h.01M325 2188.2h.01M330.4 2186.3h.01M327.7 2198.4h.01M326.3 2207.1h.01M331.2 2166h.01M339.3 2163.3h.01M335.2 2175.5h.01M333.1 2148h.01M337.7 2145h.01M340.6 2233.5h.01M346.6 2235.6h.01M348.5 2242.1h.01M353.3 2264h.01M357.9 2262.6h.01M352 2278.5h.01M342.5 2319h.01M350.1 2315.8h.01M344.4 2323.9h.01M358.7 2134.5h.01M360.9 2060.8h.01M368.1 2083.2h.01M366.8 2109.4h.01M370.3 2131.5h.01M364.6 2193h.01M374.1 2187.1h.01M362.8 2212.7h.01M372.2 2217.8h.01M378.1 2213.3h.01M379.7 2206.5h.01M375.7 2274h.01M381.1 2157.9h.01M384.3 2164.7h.01M388.4 2159.3h.01M396.5 2163.3h.01M400.5 2164.2h.01M385.7 2176h.01M389.2 2180.9h.01M398.4 2172.2h.01M394.3 2143.1h.01M392.4 2240.8h.01M401.9 2108h.01M405.4 2118h.01M403.8 2315.2h.01M407.3 2292.8h.01M409.2 2247h.01M418.1 2242.9h.01M420.8 2241h.01M410.8 2224.6h.01M416.7 2211.9h.01M426.2 2205.7h.01M414.8 2127.7h.01M412.7 2136.4h.01M424.3 2167.4h.01M422.1 2177.6h.01M428 2095.9h.01M431.5 2124.2h.01M433.4 2144.5h.01M436.9 2151.7h.01M428.8 2155.3h.01M435.6 2160.6h.01M438.8 2177.6h.01M444.2 2169.6h.01M440.4 2256.4h.01M442.3 2279.9h.01M447.7 2303.1h.01M446.4 2361.6h.01M451.8 2264h.01M449.9 2193.8h.01M453.1 2176.8h.01M464.7 2176.8h.01M457.2 2211.1h.01M461.2 2216h.01M455.3 2079.7h.01M463.1 2058.9h.01M466.6 2126.4h.01M468 2106.7h.01M472.6 2101.3h.01M469.3 2143.1h.01M477.9 2140.4h.01M474.2 2039.8h.01M479.6 1974h.01M481.5 1923.8h.01M485.5 2037.9h.01M486.9 2028.5h.01M483.3 2054.1h.01M492.2 2082.4h.01M490.4 2092.4h.01M498.2 2066.2h.01M494.1 2111.3h.01M488.2 2130.4h.01M494.9 2133.1h.01M500.3 2136.9h.01M501.2 2166.6h.01M507.1 2211.4h.01M513 2216.5h.01M503 2225.4h.01M505.7 2233.5h.01M509.2 2236.2h.01M510.6 2296.9h.01M516.5 2290.1h.01M518.7 2292.8h.01M514.4 2332.5h.01M520 2226.2h.01M523.8 2088.6h.01M521.9 2176.8h.01M528.1 2172.8h.01M524.6 2159.3h.01M532.7 2156.6h.01M531.4 2223.5h.01M536.8 2135.8h.01M536.2 2160.6h.01M536.8 2234.8h.01M551.6 2119.6h.01M550.3 2163.9h.01M545.9 2177.4h.01M546.7 2192.2h.01M555.6 2191.7h.01M542.7 2199.8h.01M552.9 2220.5h.01M560.2 2216.8h.01M571.8 2218.7h.01M544 2275.8h.01M558.9 2251.8h.01M565.6 2256.4h.01M562.9 2264.5h.01M570.2 2284.7h.01M557 2306.9h.01M568.3 2312.5h.01M575.6 2184.1h.01M573.7 2197.1h.01M577.2 2207.9h.01M579.1 2151.2h.01M583.2 2069.5h.01M581 2087h.01M587.2 2093.2h.01M591.3 2096.4h.01M589.9 2105.3h.01M584.5 2143.1h.01M589.1 2145.8h.01M594.8 2214.6h.01M597.5 2197.9h.01M601.5 2190.3h.01M605.6 2189.8h.01M606.6 2203h.01M600.2 2239.4h.01M603.4 2236.2h.01M608.8 2172.2h.01M612.3 2122.1h.01M610.1 2250.5h.01M614.2 2237.5h.01M616.9 2235.4h.01M618.2 2194.4h.01M624.2 2195.2h.01M619.6 2221.9h.01M625.5 2209.7h.01M621.7 2309h.01M627.1 2279.9h.01M629 2233.5h.01M630.9 2263.2h.01M632.5 2296.1h.01M634.4 2190.3h.01M636.6 2176.8h.01M638.5 2239.4h.01M647.4 2223.5h.01M649.3 2275.8h.01M651.2 2290.1h.01M660.6 2284.2h.01M645.2 2323.9h.01M653.3 2327.1h.01M643.3 2340.6h.01M641.2 2344.6h.01M639.8 2358.9h.01M654.7 2363.5h.01M657.9 2371.6h.01M664.9 2369.2h.01M658.7 2382.4h.01M666.8 2378.4h.01M662.8 2334.1h.01M667.6 2301.7h.01M671.4 2275.3h.01M678.9 2273.4h.01M669.5 2180.9h.01M675.7 2179.5h.01M672.7 2187.6h.01M684.9 2188.2h.01M680.3 2218.1h.01M676.8 2120.7h.01M681.6 2126.9h.01M687 2128.8h.01M690.3 2167.9h.01M687.8 2042.5h.01M691.9 2070.3h.01M697.8 2077.6h.01M695.7 2095.9h.01M693.8 2118.3h.01M699.2 2131.8h.01M702.7 2137.2h.01M701.1 2058.1h.01M704.6 2006.9h.01M710 2024.4h.01M709.4 2048.1h.01M706.7 2052.7h.01M714 2078.4h.01M712.1 2108h.01M716.7 2126.4h.01M719.4 2138.5h.01M721.3 2203h.01M730.7 2202.5h.01M728.8 2229.4h.01M739.1 2227.6h.01M723.5 2247h.01M727 2278.5h.01M732.4 2305.5h.01M724.8 2314.4h.01M734.2 2410.2h.01M737.8 2127.7h.01M741.5 2167.9h.01M739.6 2247.8h.01M747.2 2129.1h.01M743.7 2220.8h.01M746.4 2226.7h.01M749.9 2235.4h.01M751.2 2194.9h.01M754.5 2186.3h.01M753.1 2174.1h.01M759.9 2169.6h.01M765.3 2168.7h.01M766.1 2194.4h.01M761.8 2206h.01M760.4 2255.9h.01M767.4 2230.3h.01M771.5 2312.3h.01M773.4 2287.4h.01M769.3 2179.5h.01M775.3 2185.7h.01M776.9 2160.1h.01M780.1 2171.4h.01M777.4 2177.4h.01M782.3 2141.8h.01M784.2 2112.6h.01M786 2204.6h.01M789.6 2096.4h.01M787.7 2068.1h.01M795.5 2061.6h.01M792.2 2129.1h.01M797.6 2122.9h.01M793.6 2157.4h.01M798.5 2171.4h.01M800.9 2049.2h.01M803 2249.7h.01M805.7 2256.4h.01M809.8 2255.1h.01M806.5 2164.2h.01M815.2 2167.4h.01M820.6 2165.2h.01M807.9 2092.7h.01M811.9 2064.9h.01M813.8 2143.9h.01M817.9 2136.4h.01M821.9 2129.6h.01M824.6 2084.3h.01M826.5 2143.1h.01M834.1 2144.5h.01M828.7 2157.1h.01M830.6 2118.3h.01M834.1 2125.6h.01M836 2094.6h.01M836.8 2174.1h.01M844.9 2054.1h.01M841.3 2087h.01M840.5 2146.3h.01M844 2099.9h.01M850.8 2099.1h.01M858.3 2101.3h.01M848.1 2106.7h.01M852.1 2110.7h.01M846.7 2116.1h.01M855.4 2124.2h.01M859.7 1978h.01M865.6 1992h.01M863.7 2037.4h.01M867 2050h.01M862.1 2079.7h.01M871 2126.4h.01M868.3 2164.7h.01M876.4 2168.7h.01M875.1 2201.9h.01M880.5 2203.8h.01M872.9 2248.9h.01M881.8 2183h.01M883.2 2224.9h.01M891.3 2223.5h.01M898.8 2221.3h.01M885.3 2234.3h.01M887.8 2090.5h.01M894.8 2103.5h.01M891.3 2141h.01M896.7 2184.9h.01M900.7 2152.6h.01M902.1 2197.1h.01M908.8 2190.3h.01M914.2 2187.6h.01M919.6 2185.7h.01M911.5 2137.7h.01M912.8 2176.3h.01M917.7 2170.9h.01M904.2 2294.2h.01M906.1 2259.1h.01M908.3 2260.5h.01M920.9 2069.7h.01M924.2 2081.6h.01M935.8 2082.4h.01M939.3 2090.5h.01M923.1 2142.3h.01M927.7 2142.6h.01M932.5 2141.2h.01M933.6 2160.6h.01M929.8 2194.9h.01M928.2 2269.1h.01M937.1 2175.5h.01M942 2179.5h.01M946.6 2193h.01M942.5 2238.1h.01M944.7 2241.6h.01M952 2209.7h.01M956 2220h.01M953.8 2261.3h.01M948.5 2307.7h.01M950.1 2327.1h.01M957.9 2170.6h.01M959.5 2175.5h.01M961.4 2146.3h.01M963.3 2269.4h.01M965.4 2193h.01M968.7 2189h.01M971.7 2196.5h.01M966.8 2124.2h.01M974.1 2122.3h.01M972.2 2046.5h.01M977.6 2000.9h.01M987.6 1997.4h.01M981.6 2038.4h.01M979.7 2061.4h.01M976.2 2094.6h.01M983 2155.3h.01M985.7 2150.7h.01M988.9 2197.1h.01M991.1 2088.6h.01M998.6 2083.8h.01M993 2127.5h.01M994.6 2062.7h.01M997 2033.8h.01M1000 2154.4h.01M1001.9 2144.5h.01M1006.7 2146.6h.01M1004 2105.9h.01M1012.7 2152.6h.01M1007.3 2230.8h.01M1014.8 2226.7h.01M1017.2 2220h.01M1009.4 2245.6h.01M1011.3 2267.8h.01M1018.6 2174.1h.01M1020.8 2199.8h.01M1022.6 2140.4h.01M1024.8 2152.6h.01M1026.2 2270.7h.01M1028 2209.2h.01M1032.4 2204.6h.01M1036.9 2195.7h.01M1035.6 2167.9h.01M1033.4 2287.4h.01M1029.7 2333.3h.01M1039.1 2316.3h.01M1041 2272.1h.01M1042.9 2230.8h.01M1044.2 2340.9h.01M1046.9 2262.6h.01M1048.3 2138.3h.01M1050.4 2185.5h.01M1052.3 2195.2h.01M1053.9 2225.4h.01M1059.3 2137.7h.01M1055.3 2067.6h.01M1057.7 2041.1h.01M1063.4 2051.9h.01M1070.1 2042.8h.01M1073.9 2054.6h.01M1063.1 2085.1h.01M1068 2101.3h.01M1061.2 2114h.01M1071.5 2073h.01M1081.5 2069.7h.01M1077.4 2083.2h.01M1076.1 2180.3h.01M1079.6 2166h.01M1083.6 2137.7h.01M1085.5 2143.1h.01M1087.4 2033.8h.01M1089 2084.3h.01M1090.9 2163.3h.01M1096.3 2221.3h.01M1100.3 2234.8h.01M1102.2 2235.4h.01M1092.8 2189h.01M1096.3 2180.3h.01M1103.8 2183h.01M1106.3 2174.1h.01M1107.1 2152.6h.01M1111.1 2151.2h.01M1109 2088.6h.01M1113 2025.8h.01M1114.6 2032.5h.01M1116.5 2078.9h.01M1118.7 2011.7h.01M1120.6 1979.9h.01M1122.5 1953.5h.01M1124.1 1920h.01M1126 2137.2h.01M1133.3 2130.2h.01M1127.9 2041.1h.01M1129.5 2094.6h.01M1131.4 2017.7h.01M1134.9 2070.8h.01M1136.2 2172.8h.01M1143.2 2139.6h.01M1144.9 2146.6h.01M1146.7 2153.9h.01M1150 2089.2h.01M1153.5 2121h.01M1168.3 2119.6h.01M1161 2006.3h.01M1148.1 2201.7h.01M1162.4 2195.7h.01M1151.3 2224.9h.01M1155.4 2229.4h.01M1158.3 2232.7h.01M1166.4 2243.5h.01M1175.6 2203.8h.01M1180.5 2192.2h.01M1183.2 2197.1h.01M1177.2 2279.9h.01M1173.7 2287.4h.01M1171.8 2300.1h.01M1184.5 2296.1h.01M1170.2 2337.4h.01M1158.9 2379.2h.01M1164.3 2438h.01M1189.9 2188.2h.01M1186.7 2319.8h.01M1192.1 2121h.01M1194 2155.8h.01M1199.9 2148.5h.01M1195.8 2087.8h.01M1198 2071.6h.01M1203.9 2077.6h.01M1205.3 2050.6h.01M1207.4 2063.5h.01M1209.6 2094.6h.01M1212.3 2108h.01M1216.9 2112.1h.01M1201.5 2173.3h.01M1213.4 2174.1h.01M1218.2 2127.5h.01M1220.1 2235.6h.01M1229.8 2236.7h.01M1221.7 2165.2h.01M1226.3 2162h.01M1223.6 2179.5h.01M1227.1 2190.3h.01M1231.2 2199.8h.01M1236.6 2180.3h.01M1233.1 2132.9h.01M1234.4 2122.9h.01M1238.5 2118.8h.01M1241.2 2127.7h.01M1243.9 2112.1h.01M1242 2067.6h.01M1245.8 2170.6h.01M1247.4 2203.8h.01M1258.7 2203.8h.01M1264.1 2211.9h.01M1249.3 2293.7h.01M1257.4 2285.3h.01M1261.4 2287.4h.01M1253.3 2323.9h.01M1250.6 2354.4h.01M1256 2355.7h.01M1262.8 2298.2h.01M1268.7 2299.6h.01M1266.3 2356.8h.01M1271.4 2337.4h.01M1275.4 2327.1h.01M1283 2336.5h.01M1273.5 2385.4h.01M1269.5 2431.8h.01M1279.5 2297.4h.01M1277.1 2270.4h.01M1284.9 2279.4h.01M1286.5 2257.8h.01M1290.3 2251h.01M1299.7 2259.7h.01M1280.8 2144.5h.01M1288.4 2205.2h.01M1292.4 2146.6h.01M1293.8 2187.1h.01M1297.3 2176h.01M1301.9 2182.2h.01M1295.7 2108.6h.01M1303.2 2135.8h.01M1306.7 2151.2h.01M1305.1 2093.2h.01M1321.6 2278.8h.01M1325.3 2295.5h.01M1323.5 2374.3h.01M1327 2196.5h.01M1328.8 2114.8h.01M1330.7 1992h.01M1332.4 2143.7h.01M1334.8 2174.1h.01M1336.1 2003.6h.01M1338.3 2050h.01M1340.2 2127.7h.01M1344.2 2125.6h.01M1341.8 2106.7h.01M1346.4 2108.6h.01M1347.2 2141.2h.01M1349.1 1988.5h.01M1351.2 1978.5h.01M1353.1 1852.3h.01M1355 2035.2h.01M1358.5 2023.6h.01M1360.4 2129.1h.01M1365.8 2136.4h.01M1363.9 2196.5h.01M1367.4 2162.8h.01M1369.9 2187.1h.01M1371.5 2152.6h.01M1373.4 2202.5h.01M1375.3 2257h.01M1377.4 2241.6h.01M1378.8 2308.5h.01M1380.9 2151.2h.01M1384.2 2159.3h.01M1384.2 2215.4h.01M1388.2 2196.5h.01M1391.4 2066.2h.01M1393.6 2060.8h.01M1389.6 2163.3h.01M1396.3 2157.9h.01M1400.3 2165.2h.01M1395.5 2181.7h.01M1405.2 2152.6h.01M1401.2 2257.8h.01M1402.5 2210.6h.01M1406.5 2197.6h.01M1408.4 2342.8h.01M1410.6 2397.5h.01M1411.9 2287.4h.01M1413.8 2245.1h.01M1415.2 2313.1h.01M1417.9 2129.6h.01M1419.2 2136.9h.01M1425.2 2126.1h.01M1421.4 2269.1h.01M1423.3 2203.3h.01M1428.7 2211.1h.01M1426.8 2316.6h.01M1430.6 2226.2h.01M1432.2 2278.8h.01M1434.1 2332h.01M1436 2186.8h.01M1436.8 2248.9h.01M1443.2 2240.2h.01M1446.7 2257.8h.01M1440.8 2265.9h.01M1442.2 2311.2h.01M1445.4 2282.1h.01M1451.3 2288.3h.01M1448.9 2167.9h.01M1452.7 2224.9h.01M1454.8 2238.9h.01M1456.2 2122.1h.01M1458.1 2095.4h.01M1461.6 1948.9h.01M1459.7 2038.7h.01M1465.6 2033h.01M1463.5 2049.2h.01M1475.1 2037.4h.01M1469.1 2076.5h.01M1467 2137.2h.01M1472.9 2169.6h.01M1471 2196.5h.01M1478.6 2192.2h.01M1476.4 2230.8h.01M1480.5 2131h.01M1484.5 2119.4h.01M1488 2128.3h.01M1481.8 2136.4h.01M1492.1 2136.4h.01M1485.9 2013.1h.01M1489.4 2095.4h.01M1493.1 2034.4h.01M1495.3 2181.7h.01M1500.7 2204.6h.01M1502.6 2209.2h.01M1498.8 2219.5h.01M1496.7 2253.7h.01M1503.9 1913.3h.01M1514.2 1917h.01M1506.1 1938.9h.01M1509.6 1954.3h.01M1508 2002h.01M1511.5 2187.6h.01M1515.5 2292h.01M1516.9 2226.2h.01M1525 2220h.01M1520.9 2141.8h.01M1518.2 2317.9h.01M1522.3 2315.8h.01M1526.3 2303.6h.01M1528.5 2197.1h.01M1529.8 2279.9h.01M1535.8 2283.4h.01M1533.6 2265.1h.01M1537.7 2355.4h.01M1542.5 2313.6h.01M1546.6 2321.2h.01M1544.7 2398.6h.01M1539.3 2418.3h.01M1541.2 2427.2h.01M1552.5 2265.9h.01M1556 2319h.01M1553.8 2327.9h.01M1550.1 2336h.01M1548.7 2347.3h.01M1554.7 2342.8h.01M1561.4 2355.7h.01M1560.1 2341.4h.01M1566.8 2340.9h.01M1570.3 2341.4h.01M1567.3 2309.6h.01M1580.3 2341.4h.01M1572.7 2367.8h.01M1576.2 2385.1h.01M1578.4 2390.8h.01M1558.7 2402.6h.01M1564.1 2402.1h.01M1571.4 2402.9h.01M1574.4 2433.7h.01M1581.1 2236.2h.01M1583.8 2244.3h.01M1587.6 2227.6h.01M1585.7 2201.9h.01M1589.2 2119.6h.01M1591.1 2177.4h.01M1593 2191.1h.01M1594.6 1985.3h.01M1596.5 2015.5h.01M1598.4 2106.7h.01M1600.5 2219.5h.01M1601.9 2254.3h.01M1603.2 2133.1h.01M1607.8 2128.8h.01M1605.9 2090h.01M1609.4 2197.6h.01M1611.3 2057.6h.01M1613.2 2247.8h.01M1615.4 2257h.01M1617.2 2290.1h.01M1618.6 2173.6h.01M1624.3 2182.2h.01M1620.8 2113.4h.01M1622.6 2303.6h.01M1626.2 2274.8h.01M1628 2159.8h.01M1629.7 2151.7h.01M1635.6 2149.9h.01M1640.2 2153.4h.01M1631.5 2040.1h.01M1633.7 2259.1h.01M1637.5 2119.6h.01M1641 2068.1h.01M1642.9 2055.4h.01M1644.2 2094.6h.01M1647.7 2101.3h.01M1646.4 2019.8h.01M1652.6 2060h.01M1654.5 2091h.01M1649.9 2124.2h.01M1655.3 2116.9h.01M1657.7 2134.2h.01M1663.9 2113.4h.01M1667.2 2100.5h.01M1659.9 2187.6h.01M1661.2 2286.1h.01M1663.9 2203.3h.01M1668.8 2211.9h.01M1670.7 2198.4h.01M1672.6 2327.9h.01M1675.3 2286.9h.01M1677.4 2168.7h.01M1679.6 2218.1h.01M1681.5 2209.7h.01M1683.6 2068.9h.01M1685.5 2054.1h.01M1686.9 2189h.01M1691.4 2196.3h.01M1688.7 2320.6h.01M1692.8 2247.8h.01M1694.4 2448.5h.01M1696.3 2274h.01M1698.5 2322h.01M1704.4 2325.8h.01M1699.5 2352.7h.01M1707.6 2347.6h.01M1701.2 2300.1h.01M1705.2 2232.1h.01M1709.2 2256.4h.01M1711.1 2301.7h.01M1713 2365.1h.01M1715.2 2288.8h.01M1716.5 2331.4h.01M1720.6 2227.3h.01M1722.5 2243.5h.01M1723.8 2278h.01M1727.9 2268.6h.01M1726 2292.8h.01M1729.5 2336.5h.01M1731.4 2346.8h.01M1733.5 2303.6h.01M1735.4 2382.7h.01M1736.8 2365.1h.01M1739.4 2238.3h.01M1748.3 2241h.01M1740.8 2249.1h.01M1742.7 2257.8h.01M1746.2 2218.1h.01M1756.2 2329.3h.01M1761.6 2326.6h.01M1757.8 2338.7h.01M1762.9 2351.4h.01M1744.8 2368.4h.01M1751.6 2367.6h.01M1758.9 2384.6h.01M1765.1 2390h.01M1770.5 2398.9h.01M1767 2405.3h.01M1749.7 2410.7h.01M1753.7 2413.4h.01M1768.6 2435h.01M1774.5 2465h.01M1772.4 2275.3h.01M1779.9 2305.8h.01M1777.2 2313.6h.01M1775.9 2362.2h.01M1779.4 2385.4h.01M1783.1 2221.9h.01M1786.7 2287.4h.01M1790.7 2292h.01M1788.5 2394h.01M1785.3 2416.4h.01M1798 2213.3h.01M1800.7 2286.1h.01M1804.2 2287.4h.01M1801.5 2299h.01M1796.1 2340.1h.01M1792.9 2347.3h.01M1794.7 2353h.01M1807.4 2234.8h.01M1805 2185.5h.01M1808.8 2194.4h.01M1815 2180.9h.01M1816.9 2192.2h.01M1810.4 2131.5h.01M1812.3 2137.7h.01M1819.6 2137.2h.01M1819.8 2105.3h.01M1822.3 2035.2h.01M1823.9 2047.9h.01M1827.7 2092.7h.01M1825.8 2119.6h.01M1829.3 2193h.01M1831.2 2216.5h.01M1832.5 2262.4h.01M1838.7 2269.4h.01M1835.2 2155.8h.01M1836.6 2230.8h.01M1840.6 2219.5h.01M1843.3 2214.6h.01M1847.9 2209.2h.01M1844.1 2195.7h.01M1846 2237.5h.01M1850.1 2160.1h.01M1851.9 2269.4h.01" stroke="#0000ff" stroke-width="12.6" stroke-linecap="round" fill="none"/>
<path d="M257.95 1840v-18.9M257.95 2478v18.9M302.27 1840v-10M302.27 2478v10M346.59 1840v-10M346.59 2478v10M390.92 1840v-18.9M390.92 2478v18.9M435.24 1840v-10M435.24 2478v10M479.56 1840v-10M479.56 2478v10M523.88 1840v-18.9M523.88 2478v18.9M568.2 1840v-10M568.2 2478v10M612.53 1840v-10M612.53 2478v10M656.85 1840v-18.9M656.85 2478v18.9M701.17 1840v-10M701.17 2478v10M745.49 1840v-10M745.49 2478v10M789.81 1840v-18.9M789.81 2478v18.9M834.14 1840v-10M834.14 2478v10M878.46 1840v-10M878.46 2478v10M922.78 1840v-18.9M922.78 2478v18.9M967.1 1840v-10M967.1 2478v10M1011.42 1840v-10M1011.42 2478v10M1055.75 1840v-18.9M1055.75 2478v18.9M1100.07 1840v-10M1100.07 2478v10M1144.39 1840v-10M1144.39 2478v10M1188.71 1840v-18.9M1188.71 2478v18.9M1233.03 1840v-10M1233.03 2478v10M1277.36 1840v-10M1277.36 2478v10M1321.68 1840v-18.9M1321.68 2478v18.9M1366 1840v-10M1366 2478v10M1410.32 1840v-10M1410.32 2478v10M1454.64 1840v-18.9M1454.64 2478v18.9M1498.97 1840v-10M1498.97 2478v10M1543.29 1840v-10M1543.29 2478v10M1587.61 1840v-18.9M1587.61 2478v18.9M1631.93 1840v-10M1631.93 2478v10M1676.25 1840v-10M1676.25 2478v10M1720.58 1840v-18.9M1720.58 2478v18.9M1764.9 1840v-10M1764.9 2478v10M1809.22 1840v-10M1809.22 2478v10M1853.54 1840v-18.9M1853.54 2478v18.9M226 1915.86h-18.9M1883.5 1915.86h18.9M226 2024h-18.9M1883.5 2024h18.9M226 2132.14h-18.9M1883.5 2132.14h18.9M226 2240.28h-18.9M1883.5 2240.28h18.9M226 2348.42h-18.9M1883.5 2348.42h18.9M226 2456.56h-18.9M1883.5 2456.56h18.9" stroke="#000" stroke-width="2.5" fill="none"/>
<path fill="#000" fill-rule="evenodd" d="M223.05 1837H1886.8V2480.9H223.05ZM229 1842.9H1880.3V2475.1H229Z"/>
<g font-size="43.6" letter-spacing="-0.67" font-weight="bold" fill="#000">
<g text-anchor="middle">
<text transform="translate(257.62 2544.8) scale(1 1.052)">0</text>
<text transform="translate(390.59 2544.8) scale(1 1.052)">6</text>
<text transform="translate(523.55 2544.8) scale(1 1.052)">12</text>
<text transform="translate(656.52 2544.8) scale(1 1.052)">18</text>
<text transform="translate(789.48 2544.8) scale(1 1.052)">24</text>
<text transform="translate(922.45 2544.8) scale(1 1.052)">30</text>
<text transform="translate(1055.42 2544.8) scale(1 1.052)">36</text>
<text transform="translate(1188.38 2544.8) scale(1 1.052)">42</text>
<text transform="translate(1321.35 2544.8) scale(1 1.052)">48</text>
<text transform="translate(1454.31 2544.8) scale(1 1.052)">54</text>
<text transform="translate(1587.28 2544.8) scale(1 1.052)">60</text>
<text transform="translate(1720.25 2544.8) scale(1 1.052)">66</text>
<text transform="translate(1853.21 2544.8) scale(1 1.052)">72</text>
</g><g text-anchor="end">
<text transform="translate(190.3 1931.96) scale(1 1.052)">20</text>
<text transform="translate(190.3 2040.1) scale(1 1.052)">0</text>
<text transform="translate(190.3 2148.24) scale(1 1.052)"><tspan dy="4.6">−</tspan><tspan dy="-4.6">20</tspan></text>
<text transform="translate(190.3 2256.38) scale(1 1.052)"><tspan dy="4.6">−</tspan><tspan dy="-4.6">40</tspan></text>
<text transform="translate(190.3 2364.52) scale(1 1.052)"><tspan dy="4.6">−</tspan><tspan dy="-4.6">60</tspan></text>
<text transform="translate(190.3 2472.66) scale(1 1.052)"><tspan dy="4.6">−</tspan><tspan dy="-4.6">80</tspan></text>
</g></g>
<text transform="translate(89.9 2159) rotate(-90) scale(1 1.025)" font-size="42.6" text-anchor="middle">Up (mm)</text>
<text transform="translate(1055.05 2603.2) scale(1 1.025)" font-size="42.6" text-anchor="middle">Time (hours since beginning of first day UTC)</text>
<path fill="#000" fill-rule="evenodd" d="M223.05 2704H1886.8V2862.9H223.05ZM229 2709.9H1880.3V2857.1H229Z"/>
<g font-size="42.65" font-weight="bold" text-anchor="middle" fill="#000">
<text transform="translate(1054.75 2746.1) scale(1 1.06)">Processed Using JPL Rapid Orbits</text>
<text transform="translate(1054.75 2785.9) scale(1 1.06)">by the Nevada Geodetic Laboratory.</text>
<text transform="translate(1054.75 2826.7) scale(1 1.06)">Plotted on 2026-Jan-11.</text>
</g></svg></body></html>
